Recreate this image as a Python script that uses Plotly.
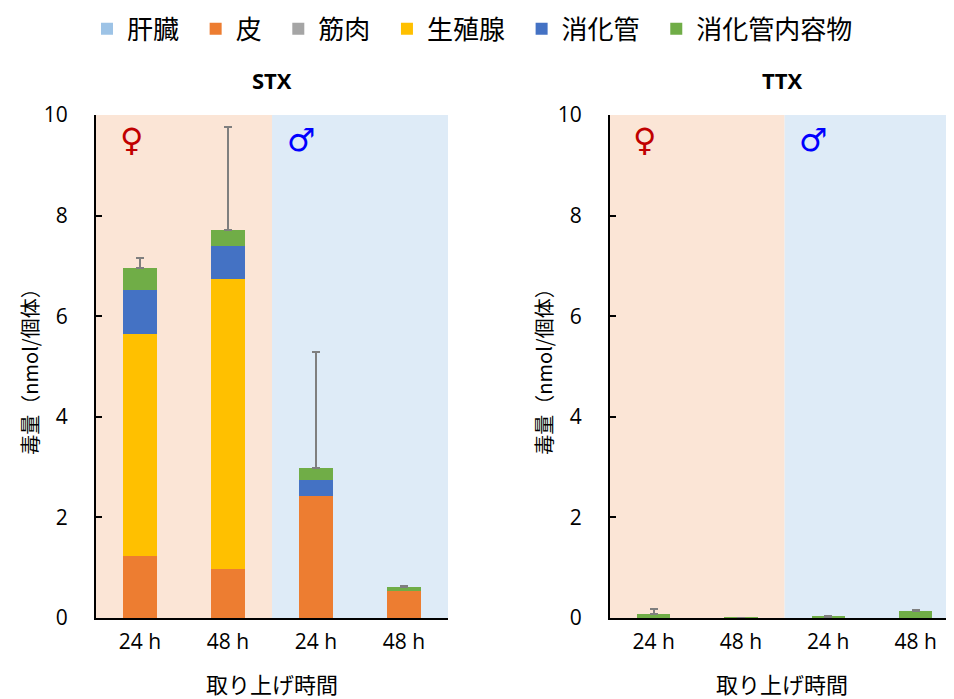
import plotly.graph_objects as go

x_pos = [0, 1, 2, 3]
tick_labels = ["24 h", "48 h", "24 h", "48 h"]
series_names = ["肝臓", "皮", "筋肉", "生殖腺", "消化管", "消化管内容物"]
colors = ["#9DC3E6", "#ED7D31", "#A5A5A5", "#FFC000", "#4472C4", "#70AD47"]

# STX values (nmol/individual), order: F24, F48, M24, M48
stx_liver = [0, 0, 0, 0]
stx_skin = [1.23, 0.97, 2.43, 0.54]
stx_muscle = [0, 0, 0, 0]
stx_gonad = [4.42, 5.77, 0, 0]
stx_gut = [0.87, 0.66, 0.31, 0]
stx_contents = [0.44, 0.31, 0.24, 0.08]
stx_err_top = [7.16, 9.76, 5.29, 0.64]

# TTX values
ttx_liver = [0, 0, 0, 0]
ttx_skin = [0, 0, 0, 0]
ttx_muscle = [0, 0, 0, 0]
ttx_gonad = [0, 0, 0, 0]
ttx_gut = [0, 0, 0, 0]
ttx_contents = [0.07, 0.01, 0.02, 0.13]
ttx_err_top = [0.17, 0.01, 0.03, 0.15]

stx = [stx_liver, stx_skin, stx_muscle, stx_gonad, stx_gut, stx_contents]
ttx = [ttx_liver, ttx_skin, ttx_muscle, ttx_gonad, ttx_gut, ttx_contents]

FONT = "Noto Sans CJK JP"
NUMFONT = "Open Sans"
W, H = 946, 691  # page body has an 8px margin
PAD = "\u00a0\u00a0"
fig = go.Figure()

def add_panel(data, err_top, xa, ya, show):
    totals = [sum(v[i] for v in data) for i in range(4)]
    for k, (name, col, vals) in enumerate(zip(series_names, colors, data)):
        kw = {}
        if k == len(data) - 1:
            kw["error_y"] = dict(type="data", symmetric=False,
                                 array=[max(e - t, 0) for e, t in zip(err_top, totals)],
                                 arrayminus=[0] * 4, color="#7F7F7F",
                                 thickness=2, width=4)
        label = name + (PAD if k < len(data) - 1 else "")
        fig.add_trace(go.Bar(x=x_pos, y=vals, name=label, marker_color=col,
                             marker_line_width=0, width=0.38, xaxis=xa, yaxis=ya,
                             legendgroup=name, showlegend=show, **kw))

add_panel(stx, stx_err_top, "x", "y", True)
add_panel(ttx, ttx_err_top, "x2", "y2", False)

ydom = [1 - 610 / H, 1 - 107 / H]
axis_common = dict(showline=True, linecolor="black", linewidth=2,
                   tickfont=dict(size=21, family=NUMFONT, color="black"))
ytitle = dict(text="毒量（nmol/個体）", font=dict(size=20, family=FONT, color="black"), standoff=0)
xtitle = dict(text="取り上げ時間", font=dict(size=22, family=FONT, color="black"), standoff=24)
fig.update_layout(
    barmode="stack", width=W, height=H,
    paper_bgcolor="white", plot_bgcolor="rgba(0,0,0,0)",
    margin=dict(l=0, r=0, t=0, b=0, autoexpand=False),
    font=dict(family=FONT, color="black"),
    bargap=0,
    legend=dict(orientation="h", x=0.0835, xanchor="left", y=1.004, yanchor="top",
                font=dict(size=26, family=FONT, color="black"), itemwidth=30, tracegroupgap=0),
    xaxis=dict(domain=[88 / W, 440 / W], range=[-0.5, 3.5], tickvals=x_pos,
               ticktext=tick_labels, ticks="", anchor="y", title=xtitle,
               ticklabelstandoff=4, **axis_common),
    yaxis=dict(domain=ydom, range=[0, 10], dtick=2, ticks="inside", ticklen=6,
               tickwidth=2, tickcolor="black", showgrid=False, zeroline=False,
               ticklabelstandoff=22, anchor="x", title=ytitle,
               **axis_common),
    xaxis2=dict(domain=[602 / W, 1.0], range=[-0.5, 3.44], tickvals=x_pos,
                ticktext=tick_labels, ticks="", anchor="y2", title=xtitle,
                ticklabelstandoff=4, **axis_common),
    yaxis2=dict(domain=ydom, range=[0, 10], dtick=2, ticks="inside", ticklen=6,
                tickwidth=2, tickcolor="black", showgrid=False, zeroline=False,
                ticklabelstandoff=22, anchor="x2", title=ytitle,
                **axis_common),
)

shapes = []
for xr, yr in [("x", "y"), ("x2", "y2")]:
    shapes.append(dict(type="rect", xref=xr, yref=yr + " domain", x0=-0.5, x1=1.5, y0=0, y1=1,
                       fillcolor="#FBE5D6", line_width=0, layer="below"))
    shapes.append(dict(type="rect", xref=xr, yref=yr + " domain", x0=1.5, x1=3.5, y0=0, y1=1,
                       fillcolor="#DEEBF7", line_width=0, layer="below"))
fig.update_layout(shapes=shapes)

ann = []
for xr, yr, title in [("x", "y", "STX"), ("x2", "y2", "TTX")]:
    ann.append(dict(text="<b>" + title + "</b>", xref=xr + " domain", yref="paper",
                    x=0.5, y=1 - 72 / H, yanchor="middle", showarrow=False,
                    font=dict(size=22, family=NUMFONT, color="black")))
    ann.append(dict(text="♀", xref=xr, yref=yr, x=-0.1, y=9.5, showarrow=False,
                    font=dict(size=32, color="#C00000", family="DejaVu Sans")))
    ann.append(dict(text="♂", xref=xr, yref=yr, x=1.83, y=9.5, showarrow=False,
                    font=dict(size=32, color="#0000FF", family="DejaVu Sans")))
fig.update_layout(annotations=ann)

fig.write_html("out.html")
